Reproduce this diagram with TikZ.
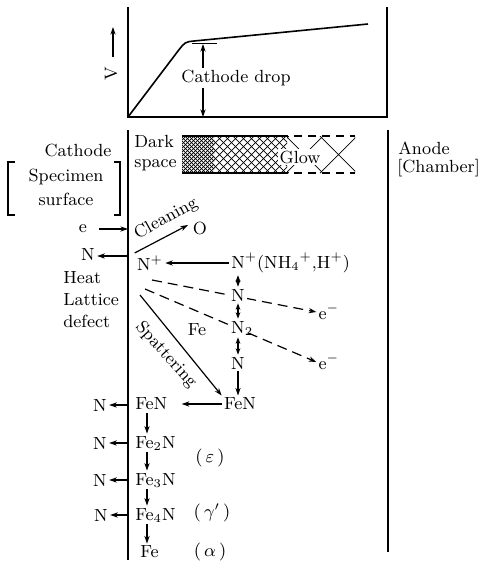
\documentclass[tikz,border=0pt]{standalone}
\usetikzlibrary{positioning,arrows.meta}
\begin{document}
\begin{tikzpicture}[x=0.5pt,y=-0.5pt,
  every node/.style={font=\fontsize{8.8}{11}\selectfont, inner sep=1pt},
  wall/.style={line width=1pt},
  flow/.style={line width=0.6pt, -{Stealth[length=3.8pt,width=2.6pt]}},
  both/.style={line width=0.6pt, {Stealth[length=3.2pt,width=2.4pt]}-{Stealth[length=3.2pt,width=2.4pt]}},
  ion/.style={line width=0.6pt, dash pattern=on 5pt off 3pt, -{Stealth[length=3.8pt,width=2.6pt]}},
  hatch/.style={line width=0.35pt}]
\useasboundingbox (0,0) rectangle (481,564);

% voltage curve
\draw[line width=0.8pt] (128,7) -- (128,117) -- (387,117) -- (387,7);
\draw[line width=0.8pt] (128,117) -- (178,51) .. controls (185,42) .. (194,41) -- (368,24);
\draw[line width=0.5pt] (192,43) -- (217,43);
\node (volt) [rotate=90] at (111,74) {V};
\coordinate (vbot) at (113,57);
\coordinate (vtop) at (113,27);
\draw[flow] (vbot) -- (vtop);
\node (drop) at (236,78) {Cathode drop};
\coordinate (droptop) at (203,44);
\coordinate (dropbot) at (203,117);
\draw[flow] (drop.north -| droptop) -- (droptop);
\draw[flow] (drop.south -| dropbot) -- (dropbot);

% electrodes
\coordinate (ctop) at (128,130);
\coordinate (cbot) at (128,560);
\coordinate (atop) at (388,130);
\coordinate (abot) at (388,552);
\draw[wall] (ctop) -- (cbot);
\draw[wall] (atop) -- (abot);

\node (cathode) at (78,150) {Cathode};
\node (spec) [align=center, font=\fontsize{8.8}{12}\selectfont] at (66,187) {Specimen\\surface};
\draw[line width=0.7pt] (15,162) -- (8,162) -- (8,215) -- (15,215);
\draw[line width=0.7pt] (114,162) -- (120,162) -- (120,215) -- (114,215);
\node (anode) [anchor=west] at (396,148) {Anode};
\node (chamber) [anchor=west] at (395,168) {[Chamber]};
\node (dark) [align=left, anchor=west, font=\fontsize{8.8}{10}\selectfont] at (132,153) {Dark\\space};

% glow region
\begin{scope}
\clip (182,136) rectangle (214,173);
\foreach \p in {145,149,...,217}
  \draw[hatch] (\p,173) -- (\p+37,136) (\p,136) -- (\p+37,173);
\end{scope}
\begin{scope}
\clip (214,136) rectangle (287,173);
\foreach \p in {177,185,...,289}
  \draw[hatch] (\p,173) -- (\p+37,136) (\p,136) -- (\p+37,173);
\end{scope}
\begin{scope}
\clip (287,136) rectangle (355,173);
\foreach \p in {252,286,...,356}
  \draw[hatch] (\p,173) -- (\p+37,136) (\p,136) -- (\p+37,173);
\end{scope}
\draw[line width=0.6pt] (182,136) -- (280,136) (182,173) -- (280,173);
\draw[line width=0.6pt, dash pattern=on 4pt off 3pt] (280,136) -- (355,136) (280,173) -- (355,173);
\node (glow) [fill=white] at (300,157) {Glow};

% surface reactions
\node (elec) at (83,229) {e};
\draw[flow, shorten <=5pt] (elec.east) -- (elec.east -| ctop);
\node (nout) at (88,254) {N};
\draw[flow] ([yshift=-1pt]nout.east -| ctop) -- ([yshift=-1pt]nout.east);
\node (heat) [align=left, anchor=west] at (61,300) {Heat\\Lattice\\defect};

\node (nplus) at (150,263) {N$^+$};
\node (oxy) at (200,228) {O};
\coordinate (clend) at (188,225);
\draw[flow] (nplus.north west) -- (clend);
\node (clean) [rotate=29] at (166,219) {Cleaning};

\node (nsrc) [anchor=west] at (229,263) {N$^+$(NH$_4{}^{+}$,H$^+$)};
\draw[flow] (nsrc.west) -- (nplus.east);

\node (eone) at (329,312) {e$^-$};
\node (etwo) at (329,362) {e$^-$};
\coordinate (done) at (152,280);
\coordinate (dtwo) at (145,289);
\draw[ion] (done) -- (eone.west);
\draw[ion] (dtwo) -- (etwo.west);

\coordinate (col) at (238,0);
\node (nmid) [fill=white] at (238,295) {N};
\node (ntwo) [fill=white] at (238,328) {N\rlap{$_2$}};
\node (nlow) at (238,363) {N};
\node (fenr) at (240,404) {FeN};
\draw[both] (nsrc.south -| col) -- (nmid.north);
\draw[both] (nmid.south) -- (ntwo.north);
\draw[both] (ntwo.south) -- (nlow.north);
\draw[flow] (nlow.south) -- (fenr.north -| col);

\coordinate (spstart) at (140,295);
\draw[flow] (spstart) -- (fenr.north west);
\node (spatter) [rotate=-48] at (166,355) {Spattering};
\node (featom) at (197,330) {Fe};

% nitride layers
\node (fenl) [anchor=west] at (133,404) {FeN};
\node (fetwo) [anchor=west] at (133,443) {Fe$_2$N};
\node (fethree) [anchor=west] at (133,480) {Fe$_3$N};
\node (fefour) [anchor=west] at (133,515) {Fe$_4$N};
\node (fealpha) [anchor=west] at (138,552) {Fe};
\draw[flow, shorten >=6pt] (fenr.west) -- (fenl.east);
\coordinate (lcol) at (147,0);
\draw[flow] (fenl.south -| lcol) -- (fetwo.north -| lcol);
\draw[flow] (fetwo.south -| lcol) -- (fethree.north -| lcol);
\draw[flow] (fethree.south -| lcol) -- (fefour.north -| lcol);
\draw[flow] (fefour.south -| lcol) -- (fealpha.north -| lcol);

\node (nlone) at (100,405) {N};
\node (nltwo) at (100,443) {N};
\node (nlthree) at (100,480) {N};
\node (nlfour) at (101,515) {N};
\foreach \n in {nlone,nltwo,nlthree,nlfour}
  \draw[flow] (\n.east -| ctop) -- (\n.east);

\node (eps) at (210,458) {$(\,\varepsilon\,)$};
\node (gam) at (212,513) {$(\,\gamma'\,)$};
\node (alp) at (210,552) {$(\,\alpha\,)$};
\end{tikzpicture}
\end{document}
